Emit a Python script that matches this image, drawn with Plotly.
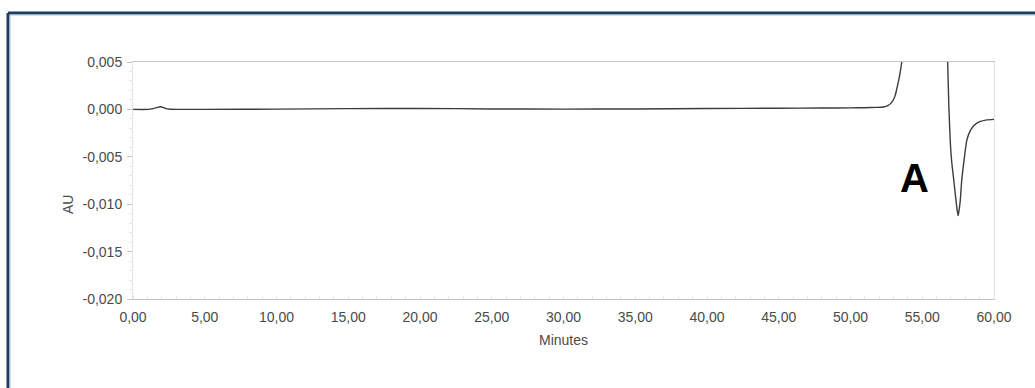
import plotly.graph_objects as go

# Chromatogram trace: retention time (min) vs absorbance (AU)
minutes = [0.0, 1.0, 1.4, 1.7, 1.9, 2.1, 2.3, 2.6, 3.0, 5.0, 10.0, 15.0, 20.0,
           25.0, 30.0, 35.0, 40.0, 45.0, 48.0, 50.0, 51.0, 51.8, 52.3, 52.6,
           52.9, 53.1, 53.2, 53.35, 53.45, 53.57, 53.7, 54.0, 55.0, 56.0,
           56.5, 56.7, 56.77, 56.85, 56.95, 57.05, 57.2, 57.35, 57.45, 57.5,
           57.55, 57.65, 57.75, 57.9, 58.1, 58.3, 58.6, 59.0, 59.5, 60.0]
au = [0.0000, 0.0000, 0.00008, 0.00022, 0.00028, 0.00022, 0.00008, 0.00002,
      0.0000, 0.0000, 0.00003, 0.00008, 0.0001, 0.00005, 0.00003, 0.00005,
      0.0001, 0.00012, 0.00014, 0.00016, 0.00018, 0.00021, 0.00025, 0.0004,
      0.0008, 0.0014, 0.0020, 0.0030, 0.0038, 0.0050, 0.0070, 0.012, 0.030,
      0.030, 0.012, 0.0070, 0.0050, 0.0005, -0.0033, -0.0055, -0.0075,
      -0.0096, -0.0108, -0.0112, -0.0108, -0.0096, -0.0075, -0.0055,
      -0.0033, -0.0024, -0.0017, -0.0013, -0.0011, -0.00105]

y_ticks = [0.005, 0.000, -0.005, -0.010, -0.015, -0.020]
y_labels = ["0,005", "0,000", "-0,005", "-0,010", "-0,015", "-0,020"]
x_ticks = [0, 5, 10, 15, 20, 25, 30, 35, 40, 45, 50, 55, 60]
x_labels = ["0,00", "5,00", "10,00", "15,00", "20,00", "25,00", "30,00",
            "35,00", "40,00", "45,00", "50,00", "55,00", "60,00"]

font_family = "Liberation Sans, Arial, sans-serif"
label_color = "#4a4a4a"

fig = go.Figure()
fig.add_trace(go.Scatter(
    x=minutes, y=au, mode="lines",
    line=dict(color="#3c3c3c", width=1.4, shape="spline", smoothing=0.5),
    hoverinfo="x+y", showlegend=False,
))

fig.update_layout(
    width=1035, height=388,
    margin=dict(l=133, r=41, t=62, b=89),
    paper_bgcolor="white", plot_bgcolor="white",
    font=dict(family=font_family, size=14, color=label_color),
    xaxis=dict(
        range=[0, 60], tickvals=x_ticks, ticktext=x_labels,
        showgrid=False, zeroline=False,
        showline=True, linecolor="#c4c4c4", linewidth=1, mirror=True,
        ticks="", ticklen=0, ticklabelstandoff=5,
        minor=dict(ticks="inside", ticklen=3, dtick=1, tickcolor="#e8e8e8"),
        tickfont=dict(size=14, color=label_color),
    ),
    yaxis=dict(
        range=[-0.020, 0.005], tickvals=y_ticks, ticktext=y_labels,
        showgrid=False, zeroline=False,
        showline=True, linecolor="#e2e2e2", linewidth=1, mirror=True,
        ticks="outside", ticklen=5, tickcolor="#c4c4c4", ticklabelstandoff=2,
        minor=dict(ticks="outside", ticklen=3, dtick=0.001, tickcolor="#e8e8e8"),
        tickfont=dict(size=14, color=label_color),
    ),
    annotations=[
        dict(text="AU", xref="paper", yref="paper", x=(68 - 133) / 861,
             y=(299 - 205) / 237, xanchor="center", yanchor="middle",
             showarrow=False, textangle=-90,
             font=dict(size=14, color=label_color)),
        dict(text="Minutes", xref="paper", yref="paper", x=(563 - 133) / 861,
             y=(299 - 340) / 237, xanchor="center", yanchor="middle",
             showarrow=False, font=dict(size=14, color=label_color)),
        dict(text="<b>A</b>", xref="paper", yref="paper", x=(914 - 133) / 861,
             y=(299 - 178) / 237, xanchor="center", yanchor="middle",
             showarrow=False,
             font=dict(size=40, color="black", family=font_family)),
    ],
    shapes=[
        # frame around the figure (top and left edges)
        dict(type="line", xref="paper", yref="paper",
             x0=(8 - 133) / 861, x1=(1040 - 133) / 861,
             y0=(299 - 13) / 237, y1=(299 - 13) / 237,
             line=dict(color="#1f3d5f", width=3)),
        dict(type="line", xref="paper", yref="paper",
             x0=(8 - 133) / 861, x1=(8 - 133) / 861,
             y0=(299 - 13) / 237, y1=(299 - 395) / 237,
             line=dict(color="#1f3d5f", width=3)),
        dict(type="line", xref="paper", yref="paper",
             x0=(10 - 133) / 861, x1=(10 - 133) / 861,
             y0=(299 - 15) / 237, y1=(299 - 395) / 237,
             line=dict(color="#a9c0d6", width=1)),
        dict(type="line", xref="paper", yref="paper",
             x0=(10 - 133) / 861, x1=(1040 - 133) / 861,
             y0=(299 - 15) / 237, y1=(299 - 15) / 237,
             line=dict(color="#a9c0d6", width=1)),
    ],
)

fig.write_html("out.html")
